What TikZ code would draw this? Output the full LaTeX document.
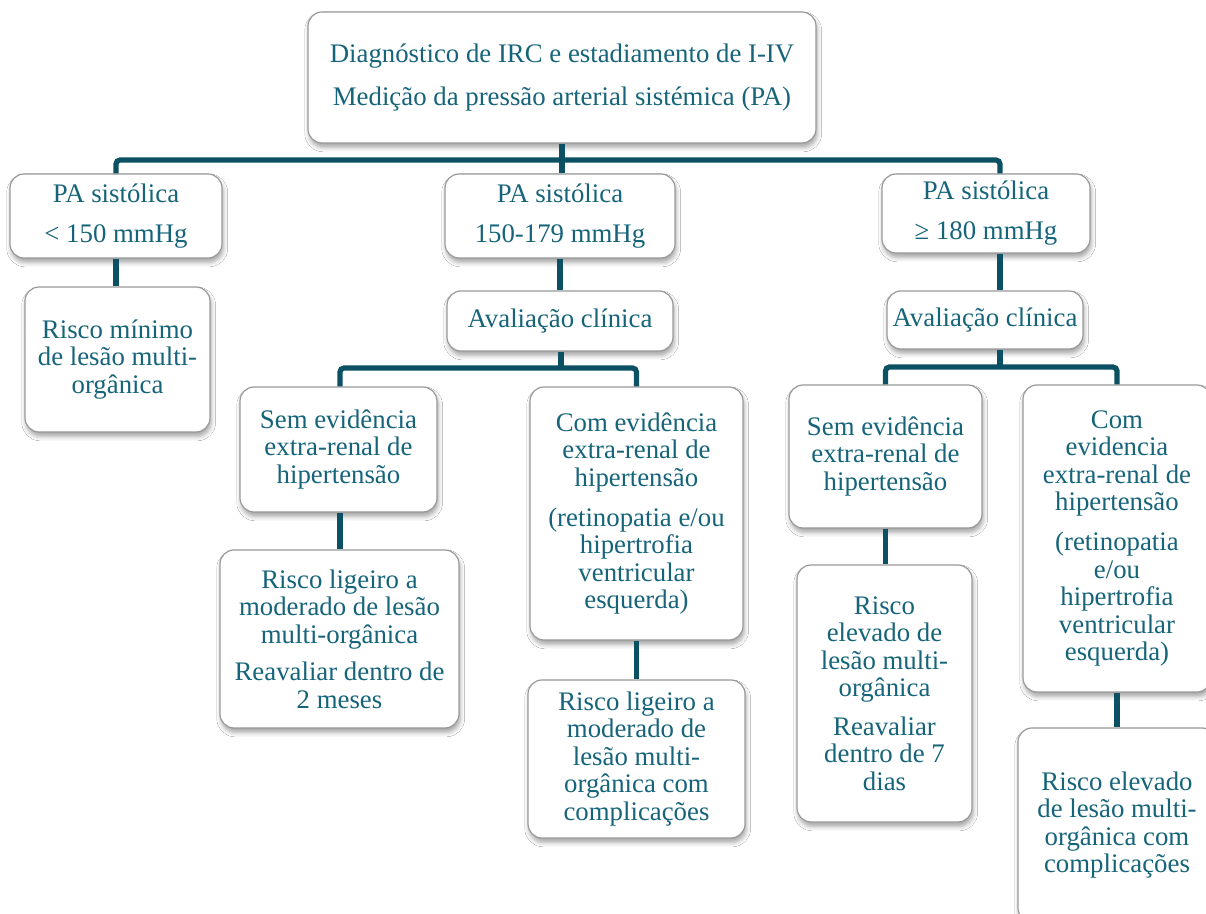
\documentclass[tikz,border=0pt]{standalone}
\usepackage{fontspec}
\setmainfont{Liberation Serif}
\usetikzlibrary{shadows.blur}
\definecolor{linkcol}{RGB}{12,80,100}
\definecolor{txtcol}{RGB}{22,100,122}
\tikzset{
  box/.style={draw=black!40, line width=0.6pt, fill=white, rounded corners=7pt,
    blur shadow={shadow xshift=0.6pt, shadow yshift=-2.2pt, shadow blur radius=2.2pt, shadow opacity=35},
    text=txtcol, align=center, inner sep=0pt,
    font=\fontsize{13.4}{13.75}\selectfont},
  link/.style={draw=linkcol, line width=2.6pt, rounded corners=2pt}
}
\begin{document}
\begin{tikzpicture}[x=0.5pt, y=-0.5pt]
\useasboundingbox (0,0) rectangle (1206,914);
\clip (0,0) rectangle (1206,914);
\fill[white] (0,0) rectangle (1206,914);

% level 0
\node[box, minimum width=254pt, minimum height=65.5pt] (top) at (562,77.5)
  {Diagnóstico de IRC e estadiamento de I-IV\\[7.7pt]Medição da pressão arterial sistémica (PA)};

% level 1: systolic pressure ranges
\node[box, minimum width=106pt, minimum height=42pt] (pa1) at (116,216)
  {PA sistólica\\[6.2pt]< 150 mmHg};
\node[box, minimum width=115pt, minimum height=42pt] (pa2) at (560,216)
  {PA sistólica\\[6.2pt]150-179 mmHg};
\node[box, minimum width=104pt, minimum height=39.5pt] (pa3) at (986,213.5)
  {PA sistólica\\[6.2pt]≥ 180 mmHg};

% level 2
\node[box, minimum width=92.5pt, minimum height=72.5pt] (min) at (117.5,359.5)
  {Risco mínimo\\de lesão multi-\\orgânica};
\node[box, minimum width=113pt, minimum height=30pt] (av2) at (560,321)
  {Avaliação clínica};
\node[box, minimum width=98pt, minimum height=29pt] (av3) at (985,320)
  {Avaliação clínica};

% level 3
\node[box, minimum width=98.5pt, minimum height=62.5pt] (sem2) at (338.5,449.5)
  {Sem evidência\\extra-renal de\\hipertensão};
\node[box, minimum width=106.5pt, minimum height=126.5pt] (com2) at (636.5,513.5)
  {Com evidência\\extra-renal de\\hipertensão\\[6.2pt](retinopatia e/ou\\hipertrofia\\ventricular\\esquerda)};
\node[box, minimum width=96.5pt, minimum height=71.5pt] (sem3) at (885.5,456.5)
  {Sem evidência\\extra-renal de\\hipertensão};
\node[box, minimum width=94pt, minimum height=153.5pt] (com3) at (1117,538.5)
  {Com\\evidencia\\extra-renal de\\hipertensão\\[6.2pt](retinopatia\\e/ou\\hipertrofia\\ventricular\\esquerda)};

% level 4: outcomes
\node[box, minimum width=119.5pt, minimum height=89pt] (lig2) at (339.5,639)
  {Risco ligeiro a\\moderado de lesão\\multi-orgânica\\[5pt]Reavaliar dentro de\\2 meses};
\node[box, minimum width=108.5pt, minimum height=79pt] (ligc) at (636.5,759)
  {Risco ligeiro a\\moderado de\\lesão multi-\\orgânica com\\complicações};
\node[box, minimum width=87.5pt, minimum height=128.5pt] (elev) at (884.5,693.5)
  {Risco\\elevado de\\lesão multi-\\orgânica\\[5.7pt]Reavaliar\\dentro de 7\\dias};
\node[box, minimum width=99pt, minimum height=97pt] (elevc) at (1117,825)
  {Risco elevado\\de lesão multi-\\orgânica com\\complicações};

% connector junctions
\coordinate (b1) at (562,160);
\coordinate (b2) at (561,368);
\coordinate (c3) at (1000,0);
\coordinate (b3) at (1000,367);

% connectors
\draw[link] (top.south) -- (top.south |- pa2.north);
\draw[link] (pa1.north) |- (b1) -| (pa3.north -| c3);
\draw[link] (pa1.south) -- (pa1.south |- min.north);
\draw[link] (pa2.south) -- (av2.north);
\draw[link] (pa3.south -| c3) -- (av3.north -| c3);

\draw[link] (av2.south -| b2) -- (b2);
\draw[link] (sem2.north -| 340,0) |- (b2) -| (com2.north);
\draw[link] (sem2.south -| 340,0) -- (lig2.north -| 340,0);
\draw[link] (com2.south) -- (com2.south |- ligc.north);

\draw[link] (av3.south -| c3) -- (b3);
\draw[link] (sem3.north) |- (b3) -| (com3.north);
\draw[link] (sem3.south) -- (sem3.south |- elev.north);
\draw[link] (com3.south) -- (elevc.north);
\end{tikzpicture}
\end{document}
